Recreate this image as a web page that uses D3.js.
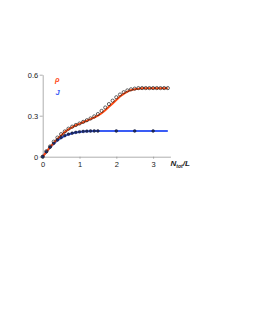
<!DOCTYPE html>
<html>
<head>
<meta charset="utf-8">
<script src="https://cdn.jsdelivr.net/npm/d3@7"></script>
<style>
  body { margin: 0; background: #fff; }
  svg { display: block; font-family: "Liberation Sans", Arial, sans-serif; }
</style>
</head>
<body>
<svg id="chart" width="257" height="332"></svg>
<script>
// data
const xLine = [0, 0.1, 0.2, 0.3, 0.4, 0.5, 0.6, 0.7, 0.8, 0.9, 1.0, 1.1, 1.2, 1.3, 1.4, 1.5, 1.6, 1.7,
  1.8, 1.9, 2.0, 2.1, 2.2, 2.3, 2.4, 2.5, 2.6, 2.7, 2.8, 2.9, 3.0, 3.1, 3.2, 3.3, 3.4];
const rhoLine = [0, 0.035, 0.07, 0.10, 0.13, 0.155, 0.18, 0.20, 0.215, 0.23, 0.24, 0.252, 0.263, 0.275,
  0.287, 0.30, 0.318, 0.34, 0.365, 0.39, 0.415, 0.44, 0.46, 0.476, 0.487, 0.494, 0.498, 0.5, 0.5,
  0.5, 0.5, 0.5, 0.5, 0.5, 0.5];
const rhoSim = [0, 0.04, 0.075, 0.11, 0.14, 0.165, 0.185, 0.205, 0.22, 0.232, 0.243, 0.255, 0.267,
  0.28, 0.295, 0.312, 0.335, 0.36, 0.385, 0.41, 0.435, 0.455, 0.472, 0.485, 0.493, 0.498, 0.502,
  0.502, 0.502, 0.502, 0.502, 0.502, 0.502, 0.502, 0.502];
const jLine = [0, 0.035, 0.068, 0.095, 0.12, 0.138, 0.152, 0.163, 0.171, 0.177, 0.181, 0.184, 0.186,
  0.187, 0.188, 0.188, 0.188, 0.188, 0.188, 0.188, 0.188, 0.188, 0.188, 0.188, 0.188, 0.188, 0.188,
  0.188, 0.188, 0.188, 0.188, 0.188, 0.188, 0.188, 0.188];
const xJSim = [0, 0.1, 0.2, 0.3, 0.4, 0.5, 0.6, 0.7, 0.8, 0.9, 1.0, 1.1, 1.2, 1.3, 1.4, 1.5, 2.0, 2.5, 3.0];
const jSim = [0, 0.036, 0.07, 0.098, 0.122, 0.14, 0.154, 0.165, 0.172, 0.178, 0.182, 0.185, 0.187,
  0.188, 0.188, 0.188, 0.188, 0.188, 0.188];
const yTicks = [0, 0.3, 0.6];
const xTicks = [0, 1, 2, 3];

const svg = d3.select('#chart');

const x = d3.scaleLinear().domain([0, 3.47]).range([42.7, 170.4]);
const y = d3.scaleLinear().domain([0, 0.6]).range([156.7, 74.7]);

// axes
const yAxis = svg.append('g')
  .attr('transform', `translate(${x(0)},0)`)
  .call(d3.axisLeft(y).tickValues(yTicks).tickSize(3).tickSizeOuter(0)
    .tickFormat(d => d === 0 ? '0' : d3.format('.1f')(d)));
const xAxis = svg.append('g')
  .attr('transform', `translate(0,${y(0)})`)
  .call(d3.axisBottom(x).tickValues(xTicks).tickSize(2).tickSizeOuter(0)
    .tickFormat(d3.format('d')));

[yAxis, xAxis].forEach(a => {
  a.select('.domain').attr('stroke', '#999').attr('stroke-width', 0.8);
  a.selectAll('.tick line').attr('stroke', '#999').attr('stroke-width', 0.8);
  a.selectAll('.tick text').attr('fill', '#222').style('font-size', '7.5px');
});
yAxis.selectAll('.tick text').attr('x', -4.5);
xAxis.selectAll('.tick text').attr('y', 5);

const line = d3.line().x(d => x(d[0])).y(d => y(d[1]));

// J
svg.append('path')
  .datum(xLine.map((v, i) => [v, jLine[i]]))
  .attr('d', line)
  .attr('fill', 'none')
  .attr('stroke', '#3a5cf5')
  .attr('stroke-width', 2);

// rho
svg.append('path')
  .datum(xLine.map((v, i) => [v, rhoLine[i]]))
  .attr('d', line)
  .attr('fill', 'none')
  .attr('stroke', '#ff4a12')
  .attr('stroke-width', 2);

// simulation markers
svg.append('g').selectAll('circle')
  .data(xLine.map((v, i) => [v, rhoSim[i]]))
  .join('circle')
  .attr('cx', d => x(d[0]))
  .attr('cy', d => y(d[1]))
  .attr('r', 1.6)
  .attr('fill', 'none')
  .attr('stroke', '#222')
  .attr('stroke-width', 0.7);

svg.append('g').selectAll('circle')
  .data(xJSim.map((v, i) => [v, jSim[i]]))
  .join('circle')
  .attr('cx', d => x(d[0]))
  .attr('cy', d => y(d[1]))
  .attr('r', 1.4)
  .attr('fill', '#1b2a6b')
  .attr('stroke', '#111')
  .attr('stroke-width', 0.4);

// legend
svg.append('text')
  .attr('x', 55).attr('y', 81.5)
  .attr('fill', '#ff4a12')
  .style('font-size', '7.5px').style('font-style', 'italic').style('font-weight', 'bold')
  .text('ρ');
svg.append('text')
  .attr('x', 55.5).attr('y', 94.5)
  .attr('fill', '#3a5cf5')
  .style('font-size', '7.5px').style('font-style', 'italic').style('font-weight', 'bold')
  .text('J');

// x label
const xl = svg.append('text')
  .attr('x', 170.5).attr('y', 166)
  .attr('fill', '#222')
  .style('font-size', '8px').style('font-style', 'italic').style('font-weight', 'bold');
xl.append('tspan').text('N');
xl.append('tspan').attr('dy', 1.5).style('font-size', '5px').text('tot');
xl.append('tspan').attr('dy', -1.5).text('/L');
</script>
</body>
</html>
